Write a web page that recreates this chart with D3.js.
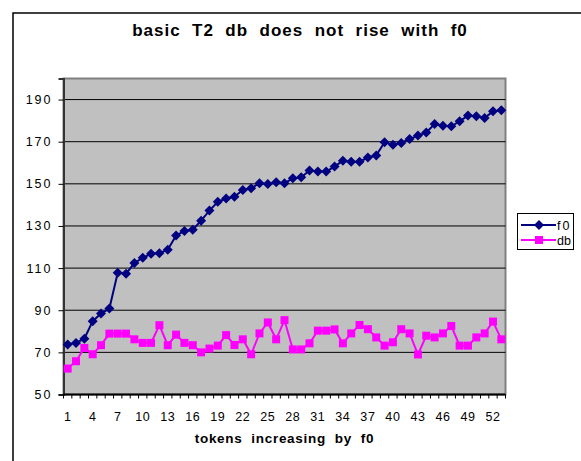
<!DOCTYPE html>
<html><head><meta charset="utf-8">
<script src="https://cdn.jsdelivr.net/npm/d3@7"></script>
<style>body{margin:0;background:#fff}svg{display:block;font-family:"Liberation Sans",Arial,sans-serif}</style>
</head><body><svg id="c" width="581" height="461"></svg>
<script>
const tokens = d3.range(1, 54);
const f0 = [73.7,74.5,76.5,84.8,88.4,90.8,107.8,107.3,112.4,114.9,116.8,117.1,118.7,125.5,127.6,128.2,132.5,137.3,141.5,143,143.9,147.1,147.9,150.3,149.9,150.7,150.3,152.6,153.1,156.3,155.8,155.8,158.2,161,160.5,160.5,162.5,163.5,169.7,168.6,169.4,171.3,172.9,174.4,178.4,177.6,177.3,179.7,182.4,182.1,181.3,184.4,184.9];
const db = [62.3,65.8,72.1,69.1,73.4,78.9,78.9,78.9,76.2,74.5,74.5,82.9,73.4,78.4,74.5,73.4,70,71.8,73.2,78.2,73.5,76.2,69.1,79,84.2,76.2,85.3,71.4,71.4,74.3,80.3,80.3,80.9,74.3,79,83,81,77.1,73.2,74.8,81,79,69,77.9,77.1,79,82.5,73.2,73.2,77.1,79,84.6,76.2];
const yTicks = [50,70,90,110,130,150,170,190];
const xTickLabels = d3.range(1, 54, 3);
const title = "basic  T2  db  does  not  rise  with  f0";
const xTitle = "tokens  increasing  by  f0";
const seriesNames = ["f0","db"];

const svg = d3.select("#c");
const L=63.5, R=505.5, T=78.5, B=394.5;
const x = d3.scaleBand().domain(tokens).range([L,R]);
const y = d3.scaleLinear().domain([50,200]).range([B,T]);
const cx = d => x(d)+x.bandwidth()/2;

// chart border
svg.append("rect").attr("x",13).attr("y",13).attr("width",600).attr("height",500)
  .attr("fill","#fff").attr("stroke","#000").attr("stroke-width",1.5);

// title
svg.append("text").attr("x",300).attr("y",36).attr("text-anchor","middle")
  .attr("font-weight","bold").attr("font-size",17).attr("letter-spacing",1)
  .style("white-space","pre").text(title);

// plot bg
svg.append("rect").attr("x",L).attr("y",T).attr("width",R-L).attr("height",B-T)
  .attr("fill","#c0c0c0").attr("stroke","#808080").attr("stroke-width",2);

// gridlines
svg.append("g").selectAll("line").data(yTicks.filter(v=>v>50)).join("line")
  .attr("x1",L).attr("x2",R).attr("y1",d=>y(d)).attr("y2",d=>y(d))
  .attr("stroke","#000").attr("stroke-width",1);

// y axis
const ya = svg.append("g").attr("transform",`translate(${L},0)`)
  .call(d3.axisLeft(y).tickValues(yTicks).tickSize(5).tickPadding(6).tickFormat(d3.format("d")));
ya.select(".domain").attr("stroke","#333").attr("stroke-width",2);
ya.selectAll("text").attr("font-size",12.5).attr("letter-spacing",2).attr("fill","#000")
  .attr("font-family","Liberation Sans, Arial, sans-serif");

// x axis
const xa = svg.append("g").attr("transform",`translate(0,${B})`);
xa.append("line").attr("x1",L).attr("x2",R).attr("stroke","#000").attr("stroke-width",2);
const bounds = tokens.map(t=>x(t)).concat([R]);
xa.selectAll("line.tk").data(bounds).join("line").attr("class","tk")
  .attr("x1",d=>d).attr("x2",d=>d).attr("y1",0).attr("y2",4).attr("stroke","#000");
xa.selectAll("text").data(xTickLabels).join("text")
  .attr("x",d=>cx(d)).attr("y",26).attr("text-anchor","middle")
  .attr("font-size",12.5).attr("letter-spacing",0.6).text(d=>d);

svg.append("text").attr("x",(L+R)/2).attr("y",443).attr("text-anchor","middle")
  .attr("font-weight","bold").attr("font-size",13.5).attr("letter-spacing",0.7)
  .style("white-space","pre").text(xTitle);

// series
const line = d3.line().x((d,i)=>cx(tokens[i])).y(d=>y(d));
svg.append("path").datum(db).attr("d",line).attr("fill","none").attr("stroke","#ff00ff").attr("stroke-width",2);
svg.append("path").datum(f0).attr("d",line).attr("fill","none").attr("stroke","#000080").attr("stroke-width",2);
const sq = 8, dm = 5;
svg.append("g").selectAll("rect").data(db).join("rect")
  .attr("x",(d,i)=>cx(tokens[i])-sq/2).attr("y",d=>y(d)-sq/2).attr("width",sq).attr("height",sq).attr("fill","#ff00ff");
svg.append("g").selectAll("path").data(f0).join("path")
  .attr("d",(d,i)=>{const px=cx(tokens[i]),py=y(d);return `M${px},${py-dm}L${px+dm},${py}L${px},${py+dm}L${px-dm},${py}Z`;})
  .attr("fill","#000080");

// legend
const lg = svg.append("g");
lg.append("rect").attr("x",517.5).attr("y",213.5).attr("width",56).attr("height",36)
  .attr("fill","#fff").attr("stroke","#000");
const lc = ["#000080","#ff00ff"];
seriesNames.forEach((n,i)=>{
  const yy = 225 + i*15;
  lg.append("line").attr("x1",521).attr("x2",556).attr("y1",yy).attr("y2",yy).attr("stroke",lc[i]).attr("stroke-width",2);
  if(i===0) lg.append("path").attr("d",`M539,${yy-dm}L${539+dm},${yy}L539,${yy+dm}L${539-dm},${yy}Z`).attr("fill",lc[i]);
  else lg.append("rect").attr("x",539-sq/2).attr("y",yy-sq/2).attr("width",sq).attr("height",sq).attr("fill",lc[i]);
  lg.append("text").attr("x",557).attr("y",yy+4.5).attr("font-size",12.5).attr("letter-spacing",i===0?2:0).text(n);
});
</script></body></html>
